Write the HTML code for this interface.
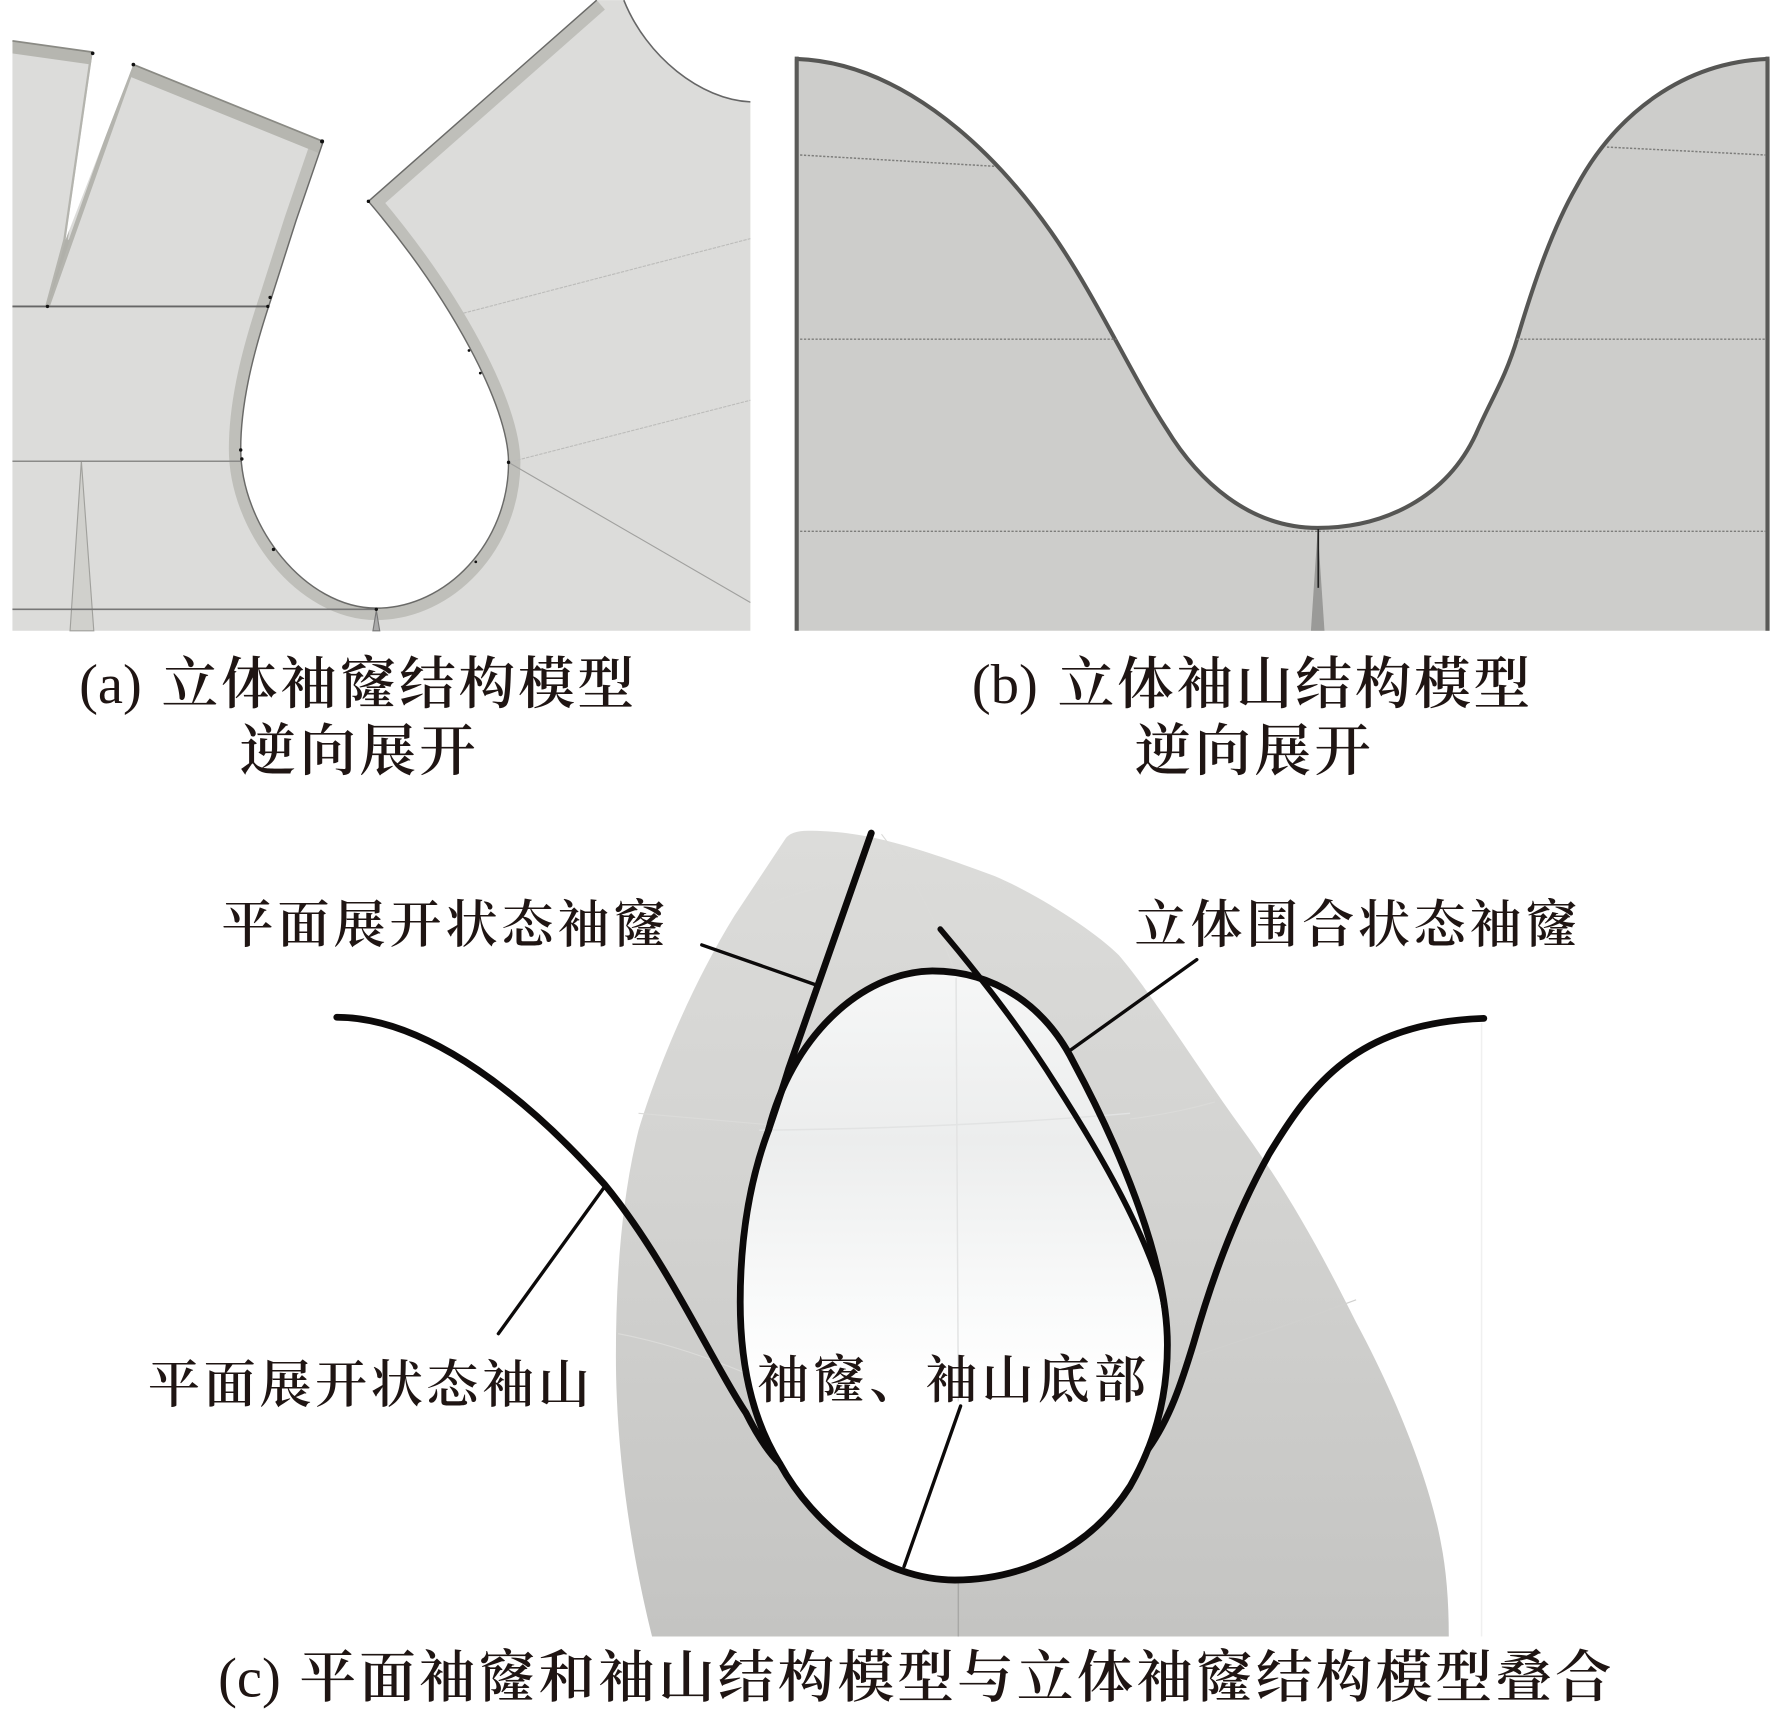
<!DOCTYPE html>
<html lang="zh">
<head>
<meta charset="utf-8">
<title>袖窿与袖山结构模型</title>
<style>
html,body{margin:0;padding:0;background:#fff;}
svg{display:block;}
text{fill:#1f1513;font-family:"Liberation Serif","Noto Serif CJK SC",serif;font-weight:600;}
text.l{font-weight:400;}
</style>
</head>
<body>
<svg xmlns="http://www.w3.org/2000/svg" width="1772" height="1726" viewBox="0 0 1568 1527">
<defs>
  <clipPath id="pa"><path d="M11,36 L82,46 L58,212 L118,57 L286,125 L262,195 L240,264 C228,300 213,350 213,397 C213,465 270,538 333,538 C395,538 450,480 450,409 C450,360 400,265 326,178 L528,0 L552,0 C572,50 620,88 664,90 L664,558 L11,558 Z"/></clipPath>
  <linearGradient id="gc" x1="0" y1="0" x2="0" y2="1">
    <stop offset="0" stop-color="#dcdcda"/><stop offset=".45" stop-color="#d3d3d1"/><stop offset="1" stop-color="#c4c4c2"/>
  </linearGradient>
  <linearGradient id="gh" x1="0" y1="0" x2="0" y2="1">
    <stop offset="0" stop-color="#f6f7f7"/><stop offset=".28" stop-color="#eceded"/><stop offset=".5" stop-color="#f7f8f8"/><stop offset=".68" stop-color="#ffffff"/><stop offset="1" stop-color="#ffffff"/>
  </linearGradient>
</defs>

<!-- Panel a -->
<path d="M11,36 L82,46 L58,212 L118,57 L286,125 L262,195 L240,264 C228,300 213,350 213,397 C213,465 270,538 333,538 C395,538 450,480 450,409 C450,360 400,265 326,178 L528,0 L552,0 C572,50 620,88 664,90 L664,558 L11,558 Z" fill="#dcdcda"/>
<g clip-path="url(#pa)" fill="none">
  <path d="M286,125 L262,195 L240,264 C228,300 213,350 213,397 C213,465 270,538 333,538 C395,538 450,480 450,409 C450,360 400,265 326,178" stroke="#bfbfba" stroke-width="21"/>
  <path d="M118,57 L286,125" stroke="#b6b6b0" stroke-width="22"/>
  <path d="M11,36 L82,46" stroke="#b6b6b0" stroke-width="22"/>
  <path d="M326,178 L528,0" stroke="#bfbfba" stroke-width="22"/>
  <path d="M82,46 L58,212 L42,271 L118,57" stroke="#b4b4ae" stroke-width="4"/>
</g>
<polygon points="58,212 42,271 62,212" fill="#b0b0aa"/>
<polygon points="72,408 62,558 83,558" fill="#d0d0cc" stroke="#a0a09c" stroke-width="1"/>
<polygon points="333,540 330,558 336,558" fill="#aaa" stroke="#777" stroke-width="1"/>
<g fill="none">
  <line x1="11" y1="271" x2="238" y2="271" stroke="#666" stroke-width="1.6"/>
  <line x1="11" y1="408" x2="213" y2="408" stroke="#8a8a88" stroke-width="1.4"/>
  <line x1="11" y1="539" x2="333" y2="539" stroke="#777" stroke-width="1.4"/>
  <line x1="410" y1="277" x2="664" y2="211" stroke="#bcbcba" stroke-width="1" stroke-dasharray="3 1"/>
  <line x1="450" y1="409" x2="664" y2="354" stroke="#bcbcba" stroke-width="1" stroke-dasharray="3 1"/>
  <line x1="450" y1="409" x2="664" y2="533" stroke="#a0a09e" stroke-width="1"/>
  <path d="M286,125 L262,195 L240,264 C228,300 213,350 213,397 C213,465 270,538 333,538 C395,538 450,480 450,409 C450,360 400,265 326,178 L528,0" stroke="#6a6a68" stroke-width="1.3"/>
  <path d="M552,0 C572,50 620,88 664,90" stroke="#666" stroke-width="1.4"/>
  <path d="M11,36 L82,46 M118,57 L286,125" stroke="#8a8a84" stroke-width="1.5"/>
</g>
<g fill="#111">
  <circle cx="82" cy="47" r="1.6"/><circle cx="118" cy="57" r="1.6"/><circle cx="285" cy="125" r="1.8"/>
  <circle cx="42" cy="271" r="1.5"/><circle cx="239" cy="263" r="1.5"/><circle cx="237" cy="271" r="1.5"/>
  <circle cx="213" cy="398" r="1.5"/><circle cx="214" cy="406" r="1.5"/><circle cx="242" cy="486" r="1.5"/>
  <circle cx="333" cy="539" r="1.5"/><circle cx="421" cy="497" r="1.2"/><circle cx="450" cy="409" r="1.5"/>
  <circle cx="415" cy="310" r="1.2"/><circle cx="425" cy="330" r="1.2"/><circle cx="326" cy="178" r="1.5"/>
</g>

<!-- Panel b -->
<path d="M703,52 C790,55 870,120 930,205 C970,262 1000,330 1032,379 C1060,425 1105,467 1166,467 C1225,467 1280,440 1306,384 C1320,352 1332,335 1343,298 C1355,258 1372,205 1395,165 C1430,100 1490,55 1566,52 L1566,558 L703,558 Z" fill="#cdcdcb"/>
<path d="M705,52 C790,55 870,120 930,205 C970,262 1000,330 1032,379 C1060,425 1105,467 1166,467 C1225,467 1280,440 1306,384 C1320,352 1332,335 1343,298 C1355,258 1372,205 1395,165 C1430,100 1490,55 1564,52" fill="none" stroke="#565654" stroke-width="3.6"/>
<path d="M705,50 L705,558 M1564,50 L1564,558" fill="none" stroke="#5a5a58" stroke-width="3.6"/>
<g fill="none" stroke="#7d7d7b" stroke-width="1.3" stroke-dasharray="2 1.4">
  <line x1="708" y1="137" x2="880" y2="147"/>
  <line x1="708" y1="300" x2="988" y2="300"/>
  <line x1="1342" y1="300" x2="1562" y2="300"/>
  <line x1="708" y1="470" x2="1562" y2="470"/>
  <line x1="1422" y1="130" x2="1562" y2="137"/>
</g>
<polygon points="1166,468 1160,558 1172,558" fill="#9a9a98"/>
<line x1="1166.5" y1="468" x2="1166.5" y2="520" stroke="#222" stroke-width="1.5"/>

<!-- Panel c -->
<path d="M695,742 Q700,735 715,735 C760,735 800,745 880,775 C920,792 970,825 990,845 C1020,880 1060,945 1100,1000 C1140,1055 1170,1110 1200,1170 C1235,1235 1265,1310 1275,1365 Q1282,1400 1282,1448 L577,1448 C560,1380 545,1290 545,1200 C545,1130 550,1060 565,1000 C580,950 610,875 650,810 Z" fill="url(#gc)"/>
<g fill="none" stroke="#dbdbd9" stroke-width="1">
  <path d="M680,800 Q730,780 790,770"/>
  <path d="M780,738 Q820,790 845,860"/>
  <path d="M565,985 Q620,990 680,995"/>
  <path d="M1000,990 Q1040,985 1075,975"/>
  <path d="M547,1180 Q600,1190 660,1215"/>
  <path d="M1040,1205 Q1120,1180 1200,1150" stroke="#d0d0ce"/>
</g>
<path d="M655,1152 C655,1090 665,1040 680,1000 C700,920 760,860 825,859 C880,859 925,890 950,940 C985,1005 1033,1110 1033,1190 C1033,1240 1020,1280 1000,1315 C965,1370 905,1398 845,1398 C780,1398 720,1350 690,1295 C665,1255 655,1205 655,1152 Z" fill="url(#gh)"/>
<g fill="none" stroke="#e2e3e3" stroke-width="1.3">
  <line x1="846" y1="865" x2="848" y2="1240"/>
  <path d="M672,1000 Q850,998 1000,985"/>
  <line x1="848" y1="1398" x2="848" y2="1448" stroke="#a8a8a6"/>
  <line x1="1311" y1="905" x2="1311" y2="1448" stroke="#f0f0f0"/>
</g>
<!-- thick curves -->
<g fill="none" stroke="#0c0a0a" stroke-linecap="round">
  <path d="M655,1152 C655,1090 665,1040 680,1000 C700,920 760,860 825,859 C880,859 925,890 950,940 C985,1005 1033,1110 1033,1190 C1033,1240 1020,1280 1000,1315 C965,1370 905,1398 845,1398 C780,1398 720,1350 690,1295 C665,1255 655,1205 655,1152 Z" stroke-width="6"/>
  <path d="M771,737 L698,945 C692,965 685,985 680,1000" stroke-width="6"/>
  <path d="M832,822 C860,855 900,905 934,959 C970,1015 1005,1075 1024,1130 C1030,1150 1033,1170 1033,1190" stroke-width="5"/>
  <path d="M298,900 C380,900 470,975 535,1048 C590,1115 630,1205 660,1250 C670,1270 680,1285 690,1295" stroke-width="6"/>
  <path d="M1016,1282 C1035,1255 1045,1225 1056,1189 C1070,1140 1090,1080 1123,1021 C1160,960 1200,905 1313,901" stroke-width="6"/>
  <line x1="621" y1="836" x2="721" y2="871" stroke-width="3"/>
  <line x1="535" y1="1050" x2="441" y2="1180" stroke-width="3"/>
  <line x1="1059" y1="849" x2="946" y2="930" stroke-width="3"/>
  <line x1="850" y1="1244" x2="800" y2="1386" stroke-width="3"/>
</g>

<!-- Captions and labels -->
<text class="l" x="70" y="622" font-size="50">(a)</text>
<text x="143" y="622" font-size="50" textLength="418" lengthAdjust="spacing">立体袖窿结构模型</text>
<text x="212" y="681" font-size="50" textLength="209" lengthAdjust="spacing">逆向展开</text>
<text class="l" x="860" y="622" font-size="50">(b)</text>
<text x="936" y="622" font-size="50" textLength="418" lengthAdjust="spacing">立体袖山结构模型</text>
<text x="1004" y="681" font-size="50" textLength="209" lengthAdjust="spacing">逆向展开</text>
<text x="196" y="834" font-size="46" textLength="393" lengthAdjust="spacing">平面展开状态袖窿</text>
<text x="1004" y="834" font-size="46" textLength="392" lengthAdjust="spacing">立体围合状态袖窿</text>
<text x="131" y="1241" font-size="46" textLength="391" lengthAdjust="spacing">平面展开状态袖山</text>
<text x="670" y="1237" font-size="46" textLength="344" lengthAdjust="spacing">袖窿、袖山底部</text>
<text class="l" x="193" y="1501" font-size="50">(c)</text>
<text x="265" y="1501" font-size="50" textLength="1161" lengthAdjust="spacing">平面袖窿和袖山结构模型与立体袖窿结构模型叠合</text>
</svg>
</body>
</html>
